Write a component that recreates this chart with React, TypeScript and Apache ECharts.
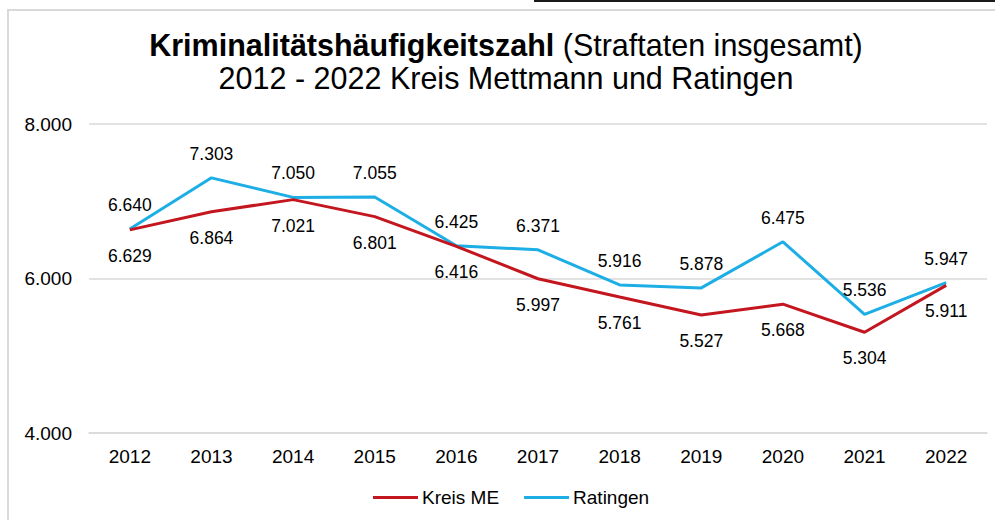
import React, { useEffect, useRef } from "react";
import * as echarts from "echarts";

const years = ["2012", "2013", "2014", "2015", "2016", "2017", "2018", "2019", "2020", "2021", "2022"];
const kreisME = [6629, 6864, 7021, 6801, 6416, 5997, 5761, 5527, 5668, 5304, 5911];
const ratingen = [6640, 7303, 7050, 7055, 6425, 6371, 5916, 5878, 6475, 5536, 5947];
const yTicks = { min: 4000, max: 8000, interval: 2000 };

const FONT = "'Liberation Sans', Arial, sans-serif";
const RED = "#C3161F";
const BLUE = "#1CAEE4";

function fmt(v: number): string {
  const n = Math.round(v);
  const th = Math.floor(n / 1000);
  const rest = n % 1000;
  return th > 0 ? th + "." + String(rest).padStart(3, "0") : String(rest);
}

export default function App() {
  const ref = useRef<HTMLDivElement>(null);
  useEffect(() => {
    if (!ref.current) return;
    const chart = echarts.init(ref.current, undefined, { renderer: "svg" });
    const labelBase = {
      show: true,
      fontFamily: FONT,
      fontSize: 17.5,
      color: "#000",
      formatter: (p: any) => fmt(p.value),
    };
    chart.setOption({
      animation: false,
      backgroundColor: "#ffffff",
      title: {
        text:
          "{b|Kriminalitätshäufigkeitszahl} {n|(Straftaten insgesamt)}\n{n|2012 - 2022 Kreis Mettmann und Ratingen}",
        left: 506,
        top: 28,
        textAlign: "center",
        padding: 0,
        textStyle: {
          fontFamily: FONT,
          fontSize: 30.5,
          lineHeight: 33,
          color: "#000",
          rich: {
            b: { fontFamily: FONT, fontSize: 30.5, fontWeight: "bold", color: "#000", lineHeight: 33 },
            n: { fontFamily: FONT, fontSize: 30.5, fontWeight: "normal", color: "#000", lineHeight: 33 },
          },
        },
      },
      legend: {
        data: ["Kreis ME", "Ratingen"],
        left: 373,
        top: 488,
        padding: 0,
        itemWidth: 45,
        itemHeight: 3,
        itemGap: 25,
        icon: "rect",
        textStyle: { fontFamily: FONT, fontSize: 19, color: "#000", padding: [0, 0, 0, -1] },
      },
      grid: { left: 89, right: 8, top: 124, bottom: 87, containLabel: false },
      xAxis: {
        type: "category",
        data: years,
        boundaryGap: true,
        axisLine: { show: true, lineStyle: { color: "#d9d9d9", width: 1.5 } },
        axisTick: { show: false },
        axisLabel: { fontFamily: FONT, fontSize: 19, color: "#000", margin: 14 },
      },
      yAxis: {
        type: "value",
        min: yTicks.min,
        max: yTicks.max,
        interval: yTicks.interval,
        axisLine: { show: false },
        axisTick: { show: false },
        splitLine: { lineStyle: { color: "#d9d9d9", width: 1.5 } },
        axisLabel: { fontFamily: FONT, fontSize: 19, color: "#000", margin: 17, formatter: (v: number) => fmt(v) },
      },
      series: [
        {
          name: "Ratingen",
          type: "line",
          data: ratingen,
          symbol: "circle",
          showSymbol: true,
          symbolSize: 0.1,
          z: 2,
          lineStyle: { color: BLUE, width: 3 },
          itemStyle: { color: BLUE },
          label: { ...labelBase, position: "top", distance: 15 },
        },
        {
          name: "Kreis ME",
          type: "line",
          data: kreisME,
          symbol: "circle",
          showSymbol: true,
          symbolSize: 0.1,
          z: 3,
          lineStyle: { color: RED, width: 3 },
          itemStyle: { color: RED },
          label: { ...labelBase, position: "bottom", distance: 17 },
        },
      ],
      graphic: [
        { type: "line", shape: { x1: 534, y1: 1, x2: 995, y2: 1 }, style: { stroke: "#1a1a1a", lineWidth: 2 } },
        { type: "line", shape: { x1: 7, y1: 10, x2: 995, y2: 10 }, style: { stroke: "#d9d9d9", lineWidth: 2 } },
        { type: "line", shape: { x1: 8, y1: 10, x2: 8, y2: 520 }, style: { stroke: "#d9d9d9", lineWidth: 2 } },
      ],
    });
    return () => chart.dispose();
  }, []);
  return <div ref={ref} style={{ position: "fixed", left: 0, top: 0, width: 995, height: 520 }} />;
}
